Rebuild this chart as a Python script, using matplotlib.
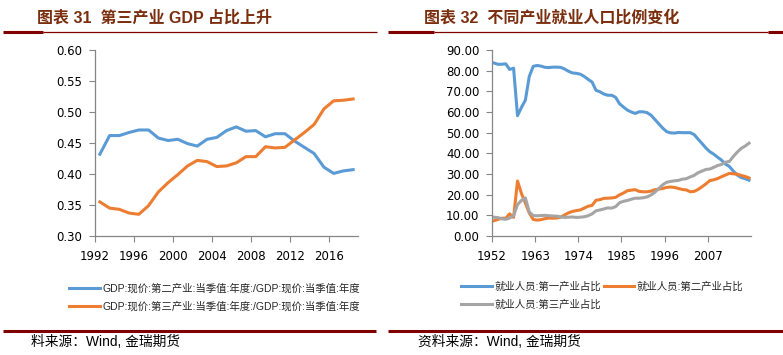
import numpy as np
import matplotlib
matplotlib.use('Agg')
import matplotlib.pyplot as plt
from matplotlib.lines import Line2D

# 图表31: GDP 占比
gdp_years = list(range(1992, 2019))
gdp_second = [0.432, 0.462, 0.462, 0.467, 0.471, 0.471, 0.458, 0.454, 0.456, 0.449,
              0.445, 0.456, 0.459, 0.470, 0.476, 0.469, 0.470, 0.460, 0.465, 0.465,
              0.453, 0.443, 0.433, 0.411, 0.401, 0.405, 0.407]
gdp_third = [0.355, 0.345, 0.343, 0.337, 0.335, 0.349, 0.371, 0.386, 0.399, 0.413,
             0.422, 0.420, 0.412, 0.413, 0.418, 0.428, 0.428, 0.444, 0.442, 0.443,
             0.455, 0.467, 0.480, 0.505, 0.518, 0.519, 0.521]
gdp_labels = ['GDP:现价:第二产业:当季值:年度:/GDP:现价:当季值:年度',
              'GDP:现价:第三产业:当季值:年度:/GDP:现价:当季值:年度']

# 图表32: 就业人员占比
emp_years = list(range(1952, 2018))
emp_first = [83.7, 83.1, 83.1, 83.3, 80.6, 81.2, 58.2, 62.2, 65.7, 77.2,
             82.1, 82.5, 82.2, 81.6, 81.5, 81.7, 81.7, 81.6, 80.8, 79.7,
             78.9, 78.7, 78.3, 77.2, 75.8, 74.5, 70.5, 69.8, 68.7, 68.1,
             68.1, 67.1, 64.0, 62.4, 60.9, 60.0, 59.3, 60.1, 60.1, 59.7,
             58.5, 56.4, 54.3, 52.2, 50.5, 49.9, 49.8, 50.1, 50.0, 50.0,
             50.0, 49.1, 46.9, 44.8, 42.6, 40.8, 39.6, 38.1, 36.7, 34.8,
             33.6, 31.4, 29.5, 28.3, 27.7, 27.0]
emp_second = [7.4, 8.0, 8.6, 8.6, 10.7, 9.0, 26.6, 20.6, 15.9, 11.2,
              8.0, 7.7, 7.9, 8.4, 8.7, 8.6, 8.7, 9.1, 10.2, 11.2,
              11.9, 12.3, 12.6, 13.5, 14.4, 14.8, 17.3, 17.6, 18.2, 18.3,
              18.4, 18.7, 19.9, 20.8, 21.9, 22.2, 22.4, 21.6, 21.4, 21.4,
              21.7, 22.4, 22.7, 23.0, 23.5, 23.7, 23.5, 23.0, 22.5, 22.3,
              21.4, 21.6, 22.5, 23.8, 25.2, 26.8, 27.2, 27.8, 28.7, 29.5,
              30.3, 30.1, 29.9, 29.3, 28.8, 28.1]
emp_third = [9.1, 8.9, 8.3, 8.1, 8.7, 9.8, 15.2, 17.2, 18.4, 11.6,
             9.9, 9.8, 9.9, 10.0, 9.8, 9.7, 9.6, 9.3, 9.0, 9.1,
             9.2, 9.0, 9.1, 9.3, 9.8, 10.7, 12.2, 12.6, 13.1, 13.6,
             13.5, 14.2, 16.1, 16.8, 17.2, 17.8, 18.3, 18.3, 18.5, 18.9,
             19.8, 21.2, 23.0, 24.8, 26.0, 26.4, 26.7, 26.9, 27.5, 27.7,
             28.6, 29.3, 30.6, 31.4, 32.2, 32.4, 33.2, 34.1, 34.6, 35.7,
             36.1, 38.5, 40.6, 42.4, 43.5, 44.9]
emp_labels = ['就业人员:第一产业占比', '就业人员:第二产业占比', '就业人员:第三产业占比']

BLUE = '#5B9BD5'
ORANGE = '#ED7D31'
GRAY = '#A5A5A5'
DARKRED = '#800000'
TITLE_C = '#7A2E0E'
W, H = 783, 355

plt.rcParams['font.family'] = ['DejaVu Sans', 'Noto Sans CJK SC']
fig = plt.figure(figsize=(W / 100, H / 100), dpi=100)


def fx(x):
    return x / W


def fy(y):
    return 1 - y / H


def hline(x0, x1, y, lw):
    fig.add_artist(Line2D([fx(x0), fx(x1)], [fy(y), fy(y)], color=DARKRED, lw=lw,
                          transform=fig.transFigure, solid_capstyle='butt'))


def style_axes(ax):
    for s in ['top', 'right']:
        ax.spines[s].set_visible(False)
    for s in ['left', 'bottom']:
        ax.spines[s].set_color('#868686')
        ax.spines[s].set_linewidth(0.9)
    ax.tick_params(colors='#868686', labelcolor='black', labelsize=8.5, length=4, width=0.8)
    ax.tick_params(axis='y', pad=5)
    ax.tick_params(axis='x', pad=6)


# --- left chart ---
ax1 = fig.add_axes([fx(95), fy(236), fx(358) - fx(95), fy(50) - fy(236)])
xg = np.array(gdp_years) + 0.5
ax1.plot(xg, gdp_second, color=BLUE, lw=2.2, label=gdp_labels[0])
ax1.plot(xg, gdp_third, color=ORANGE, lw=2.2, label=gdp_labels[1])
ax1.set_xlim(1992, 2019)
ax1.set_ylim(0.30, 0.60)
ax1.set_xticks(range(1992, 2019, 4))
ax1.set_yticks(np.arange(0.30, 0.601, 0.05))
ax1.set_yticklabels([f'{v:.2f}' for v in np.arange(0.30, 0.601, 0.05)])
style_axes(ax1)

# --- right chart ---
ax2 = fig.add_axes([fx(492), fy(236), fx(751) - fx(492), fy(50) - fy(236)])
xe = np.array(emp_years) + 0.5
l1, = ax2.plot(xe, emp_first, color=BLUE, lw=2.2)
l2, = ax2.plot(xe, emp_second, color=ORANGE, lw=2.2)
l3, = ax2.plot(xe, emp_third, color=GRAY, lw=2.2)
ax2.set_xlim(1952, 2018)
ax2.set_ylim(0, 90)
ax2.set_xticks(range(1952, 2018, 11))
ax2.set_yticks(range(0, 91, 10))
ax2.set_yticklabels([f'{v:.2f}' for v in range(0, 91, 10)])
style_axes(ax2)

# legends
cjk = {'family': ['Liberation Sans', 'Noto Sans CJK SC'], 'size': 7.5}
h1, lab1 = ax1.get_legend_handles_labels()
fig.legend(h1, lab1, loc='upper left', bbox_to_anchor=(fx(60), fy(274)), frameon=False,
           prop=cjk, handlelength=2.9, handletextpad=0.25, labelspacing=0.75,
           labelcolor='#262626')
fig.legend([l1, l3, l2], [emp_labels[0], emp_labels[2], emp_labels[1]], ncol=2,
           loc='upper left', bbox_to_anchor=(fx(452), fy(272)), frameon=False,
           prop=cjk, handlelength=2.9, handletextpad=0.25, labelspacing=0.75,
           columnspacing=0.3, labelcolor='#262626')

# titles and rules
tfont = {'family': ['Liberation Sans', 'Noto Sans CJK SC'], 'size': 11.5, 'weight': 'bold'}
fig.text(fx(37), fy(18), '图表 31  第三产业 GDP 占比上升', color=TITLE_C, va='center', fontdict=tfont)
fig.text(fx(424), fy(18), '图表 32  不同产业就业人口比例变化', color=TITLE_C, va='center', fontdict=tfont)
hline(3, 43, 31.5, 2.2)
hline(43, 377, 31.5, 0.9)
hline(388, 434, 31.5, 2.2)
hline(434, 768, 31.5, 0.9)
hline(768, 783, 31.5, 2.2)
hline(3, 376, 331, 2.2)
hline(388, 783, 331, 2.2)

sfont = {'family': ['Liberation Sans', 'Noto Sans CJK SC'], 'size': 9.9}
fig.text(fx(31), fy(342), '料来源：Wind, 金瑞期货', color='black', va='center', fontdict=sfont)
fig.text(fx(418), fy(342), '资料来源：Wind, 金瑞期货', color='black', va='center', fontdict=sfont)

fig.savefig('out.png', dpi=100)
